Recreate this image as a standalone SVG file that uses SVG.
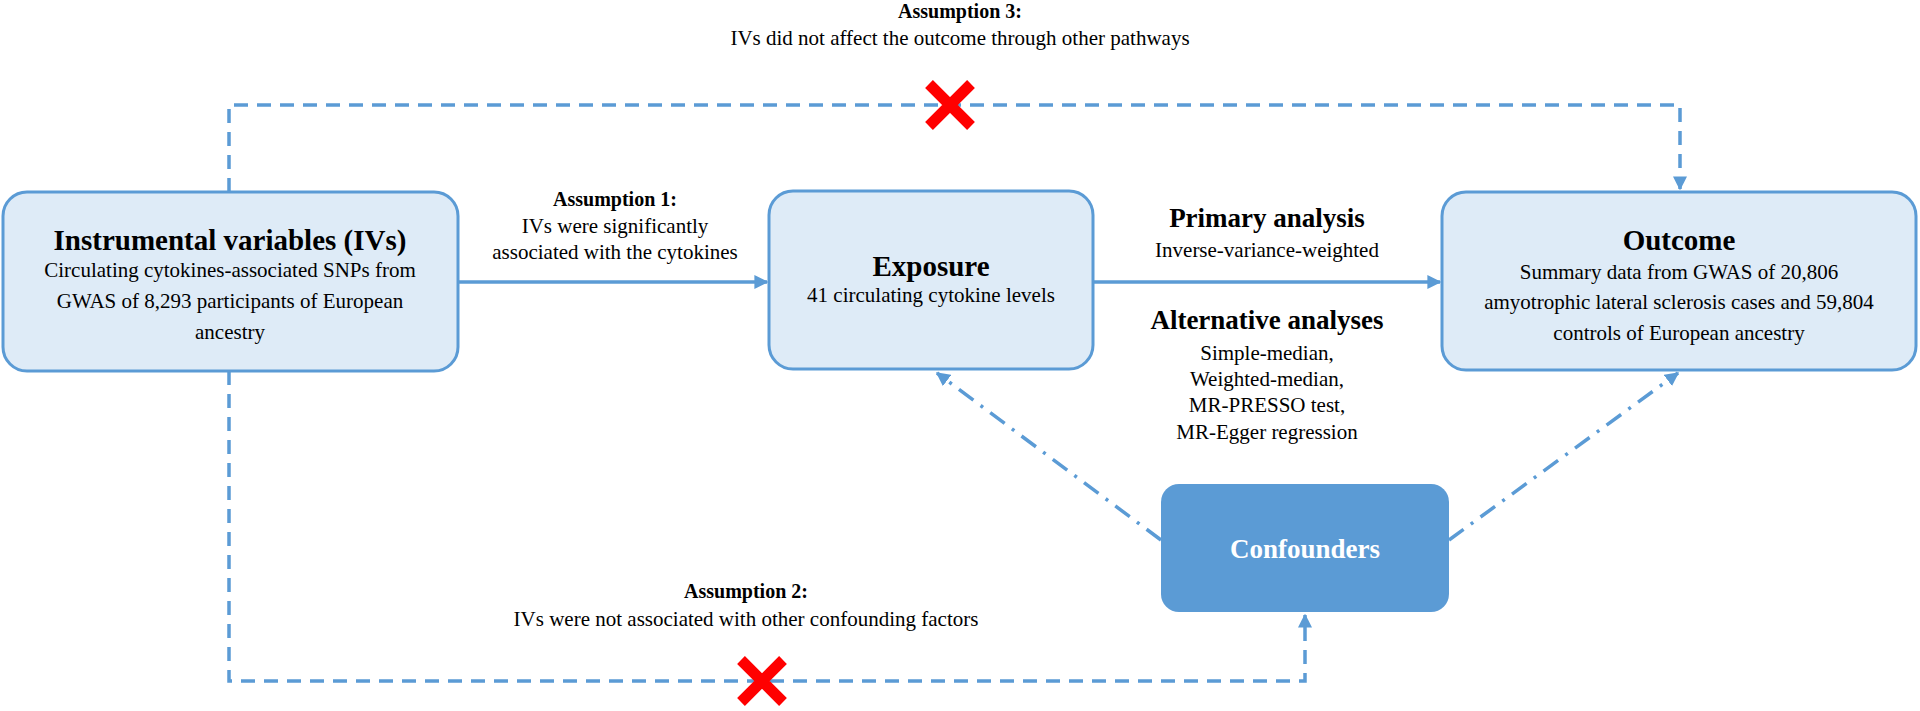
<svg xmlns="http://www.w3.org/2000/svg" width="1920" height="711" viewBox="0 0 1920 711">
<style>
text{font-family:'Liberation Serif','Times New Roman',serif;fill:#000;text-anchor:middle;dominant-baseline:central}
.b{font-weight:bold}
.t{font-size:29px;font-weight:bold}
.s{font-size:21px;font-family:'Liberation Serif',serif}
.l{font-size:20px;font-weight:bold}
.box{fill:#deebf7;stroke:#5b9bd5;stroke-width:3}
.ln{fill:none;stroke:#5b9bd5;stroke-width:3.5}
.d{stroke-dasharray:14 9}
.dd{stroke-dasharray:18 9 3 9}
.x{stroke:#ff0000;stroke-width:11;stroke-linecap:butt}
</style>
<defs>
<marker id="a" viewBox="0 0 10 10" refX="9" refY="5" markerWidth="4" markerHeight="4" orient="auto" markerUnits="strokeWidth">
<path d="M0,0L10,5L0,10z" fill="#5b9bd5"/>
</marker>
</defs>
<g id="connectors">
<path class="ln d" d="M229,192V105H1680V189" marker-end="url(#a)"/>
<path class="ln d" d="M229,371V681H1305V615" marker-end="url(#a)"/>
<path class="ln" d="M458,282H767" marker-end="url(#a)"/>
<path class="ln" d="M1093,282H1440" marker-end="url(#a)"/>
<path class="ln dd" d="M1161,540L937,373" marker-end="url(#a)"/>
<path class="ln dd" d="M1449,540L1678,373" marker-end="url(#a)"/>
<g id="x1"><path class="x" d="M929,84L971,126M971,84L929,126"/></g>
<g id="x2"><path class="x" d="M741,660L783,702M783,660L741,702"/></g>
</g>
<g id="labels">
<text class="l" x="960" y="11">Assumption 3:</text>
<text class="s" x="960" y="38">IVs did not affect the outcome through other pathways</text>
<text class="l" x="615" y="199">Assumption 1:</text>
<text class="s" x="615" y="226">IVs were significantly</text>
<text class="s" x="615" y="252">associated with the cytokines</text>
<text class="b" style="font-size:27px" x="1267" y="218">Primary analysis</text>
<text class="s" x="1267" y="250">Inverse-variance-weighted</text>
<text class="b" style="font-size:27px" x="1267" y="320">Alternative analyses</text>
<text class="s" x="1267" y="353">Simple-median,</text>
<text class="s" x="1267" y="379">Weighted-median,</text>
<text class="s" x="1267" y="405">MR-PRESSO test,</text>
<text class="s" x="1267" y="432">MR-Egger regression</text>
<text class="l" x="746" y="591">Assumption 2:</text>
<text class="s" x="746" y="619">IVs were not associated with other confounding factors</text>
</g>
<g id="iv">
<rect class="box" x="3" y="192" width="455" height="179" rx="24"/>
<text class="t" x="230" y="240">Instrumental variables (IVs)</text>
<text class="s" x="230" y="270">Circulating cytokines-associated SNPs from</text>
<text class="s" x="230" y="301">GWAS of 8,293 participants of European</text>
<text class="s" x="230" y="332">ancestry</text>
</g>
<g id="exposure">
<rect class="box" x="769" y="191" width="324" height="178" rx="24"/>
<text class="t" x="931" y="266">Exposure</text>
<text class="s" x="931" y="295">41 circulating cytokine levels</text>
</g>
<g id="outcome">
<rect class="box" x="1442" y="192" width="474" height="178" rx="24"/>
<text class="t" x="1679" y="240">Outcome</text>
<text class="s" x="1679" y="272">Summary data from GWAS of 20,806</text>
<text class="s" x="1679" y="302">amyotrophic lateral sclerosis cases  and 59,804</text>
<text class="s" x="1679" y="333">controls of European ancestry</text>
</g>
<g id="confounders">
<rect x="1161" y="484" width="288" height="128" rx="18" fill="#5b9bd5"/>
<text class="t" x="1305" y="549" style="fill:#fff;font-size:27px">Confounders</text>
</g>
</svg>
